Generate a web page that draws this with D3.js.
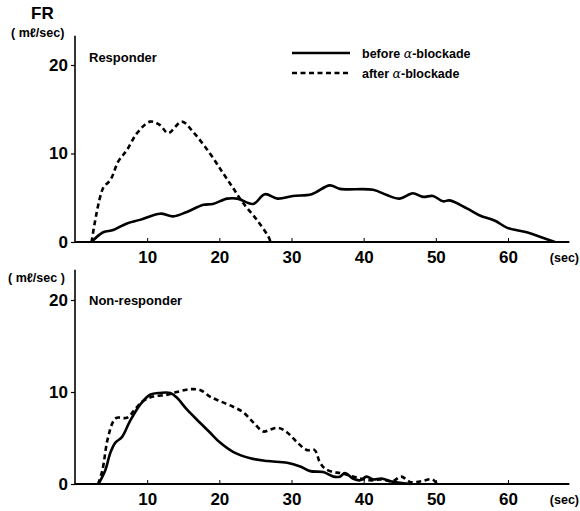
<!DOCTYPE html>
<html>
<head>
<meta charset="utf-8">
<script src="https://cdn.jsdelivr.net/npm/d3@7"></script>
<style>
  body { margin: 0; background: #fff; }
  svg text { font-family: "Liberation Sans", Arial, sans-serif; fill: #000; }
</style>
</head>
<body>
<div id="box"></div>
<script>
// time (sec) / flow rate (ml/sec)
const respBeforeT = [2.3, 3.9, 5.3, 7.2, 9.0, 11.8, 13.6, 15.5, 17.8, 19.1, 21.1, 22.5, 24.7, 26.3, 28.1, 30.2, 32.8, 35.3, 36.7, 41.3, 43.2, 45.0, 46.8, 48.2, 49.6, 51.0, 51.9, 54.3, 56.1, 58.2, 59.9, 62.6, 65.1, 66.5]
const respBeforeV = [0, 1.1, 1.35, 2.1, 2.5, 3.2, 2.9, 3.4, 4.2, 4.3, 4.9, 4.9, 4.3, 5.4, 4.9, 5.2, 5.4, 6.4, 6.0, 5.9, 5.3, 4.9, 5.5, 5.1, 5.2, 4.6, 4.7, 3.8, 3.0, 2.4, 1.6, 1.1, 0.4, 0]

const respAfterT = [2.3, 3.9, 4.9, 6.0, 7.2, 8.6, 10.4, 11.8, 12.9, 14.8, 16.4, 18.7, 20.5, 21.9, 23.3, 25.2, 26.8, 27.1]
const respAfterV = [0, 6.1, 7.0, 9.1, 10.4, 12.3, 13.6, 13.2, 12.3, 13.6, 12.4, 10.0, 7.8, 6.1, 4.4, 2.5, 0.6, 0]

const nonBeforeT = [3.25, 4.2, 4.9, 5.6, 6.5, 7.6, 9.0, 10.4, 11.8, 13.2, 14.1, 15.5, 17.4, 18.7, 20.1, 21.9, 24.3, 26.6, 29.4, 31.2, 32.6, 34.4, 35.8, 36.7, 37.4, 38.5, 39.5, 40.4, 41.3, 42.5, 43.7, 46.5]
const nonBeforeV = [0, 1.5, 3.4, 4.5, 5.1, 6.8, 8.6, 9.7, 9.9, 9.9, 9.4, 8.1, 6.6, 5.6, 4.5, 3.5, 2.8, 2.5, 2.3, 1.9, 1.4, 1.3, 0.8, 0.8, 1.2, 0.6, 0.4, 0.8, 0.5, 0.6, 0.3, 0]

const nonAfterT = [3.2, 3.8, 4.5, 5.3, 5.8, 7.2, 8.3, 9.4, 10.8, 12.8, 14.1, 15.9, 17.4, 18.7, 20.1, 21.9, 23.3, 24.7, 26.1, 27.0, 28.2, 29.4, 30.7, 32.1, 33.2, 33.9, 34.6, 35.8, 36.7, 37.7, 39.5, 40.9, 42.5, 44.0, 45.2, 46.5, 48.0, 49.5, 50.2]
const nonAfterV = [0, 1.5, 4.8, 6.8, 7.2, 7.2, 8.1, 9.0, 9.5, 9.7, 10.0, 10.3, 10.2, 9.5, 9.0, 8.4, 7.8, 6.7, 5.7, 5.9, 6.1, 5.6, 4.6, 3.7, 3.7, 2.4, 1.7, 1.3, 1.2, 1.0, 0.6, 0.4, 0.5, 0.3, 0.8, 0.2, 0.3, 0.5, 0]

const xTicks = [10, 20, 30, 40, 50, 60]
const yTicks = [0, 10, 20]

const width = 580
const height = 511

const svg = d3.select('#box').append('svg')
  .attr('width', width)
  .attr('height', height)

const x = d3.scaleLinear().domain([0, 60]).range([75, 508])

const zip = (t, v) => t.map((d, i) => [d, v[i]])

function drawPanel(top, bottom, title, titleDy, before, after) {
  const y = d3.scaleLinear().domain([0, 20]).range([bottom, top])
  const g = svg.append('g')

  // y axis: ticks on the left, line runs a bit above 20
  const yAxis = d3.axisLeft(y).tickValues(yTicks).tickSize(4).tickSizeOuter(0).tickFormat(d3.format('d'))
  const ya = g.append('g').attr('transform', `translate(${x(0)},0)`).call(yAxis)
  ya.select('.domain').remove()
  ya.selectAll('.tick line').attr('stroke-width', 1.2)
  ya.selectAll('.tick text').attr('x', -7).style('font-size', '17px').style('font-weight', 'bold')
  g.append('line')
    .attr('x1', x(0)).attr('x2', x(0))
    .attr('y1', y(0)).attr('y2', y(23.3))
    .attr('stroke', '#000').attr('stroke-width', 1.6)

  // x axis: small ticks pointing up
  const xAxis = d3.axisBottom(x).tickValues(xTicks).tickSize(-4).tickSizeOuter(0)
  const xa = g.append('g').attr('transform', `translate(0,${y(0)})`).call(xAxis)
  xa.select('.domain').remove()
  xa.selectAll('.tick text').attr('y', 9).style('font-size', '17px').style('font-weight', 'bold')
  g.append('line')
    .attr('x1', x(0)).attr('x2', x(68.5))
    .attr('y1', y(0)).attr('y2', y(0))
    .attr('stroke', '#000').attr('stroke-width', 1.8)
  g.append('text').text('(sec)')
    .attr('x', x(65.8)).attr('y', y(0) + 20)
    .style('font-size', '12.5px').style('font-weight', 'bold')

  g.append('text').text(title)
    .attr('x', 89).attr('y', y(20) + titleDy)
    .style('font-size', '13px').style('font-weight', 'bold')

  const line = d3.line()
    .x(d => x(d[0]))
    .y(d => y(d[1]))
    .curve(d3.curveCatmullRom)

  g.append('path').datum(before)
    .attr('d', line)
    .attr('fill', 'none').attr('stroke', '#000').attr('stroke-width', 2.6)
  g.append('path').datum(after)
    .attr('d', line)
    .attr('fill', 'none').attr('stroke', '#000').attr('stroke-width', 2.6)
    .attr('stroke-dasharray', '5,3.5')
  return y
}

drawPanel(65, 242, 'Responder', -3, zip(respBeforeT, respBeforeV), zip(respAfterT, respAfterV))
drawPanel(300, 484, 'Non-responder', 5, zip(nonBeforeT, nonBeforeV), zip(nonAfterT, nonAfterV))

// unit labels
svg.append('text').text('FR')
  .attr('x', 31).attr('y', 19)
  .style('font-size', '17px').style('font-weight', 'bold')
svg.append('text').text('( mℓ/sec)')
  .attr('x', 11).attr('y', 37)
  .style('font-size', '12.5px').style('font-weight', 'bold')
svg.append('text').text('( mℓ/sec )')
  .attr('x', 8).attr('y', 282)
  .style('font-size', '12.5px').style('font-weight', 'bold')

// legend
const legend = svg.append('g')
const legendItems = [
  { label: 'before ', dash: null, y: 53 },
  { label: 'after ', dash: '5,3.5', y: 73 }
]
legendItems.forEach(it => {
  legend.append('line')
    .attr('x1', 292).attr('x2', 350)
    .attr('y1', it.y).attr('y2', it.y)
    .attr('stroke', '#000').attr('stroke-width', 2.4)
    .attr('stroke-dasharray', it.dash)
  const t = legend.append('text')
    .attr('x', 362).attr('y', it.y + 4.5)
    .style('font-size', '12.5px').style('font-weight', 'bold')
  t.append('tspan').text(it.label)
  t.append('tspan').text('α').style('font-style', 'italic').style('font-weight', 'normal').style('font-family', '"DejaVu Serif", serif')
  t.append('tspan').text('-blockade')
})
</script>
</body>
</html>
